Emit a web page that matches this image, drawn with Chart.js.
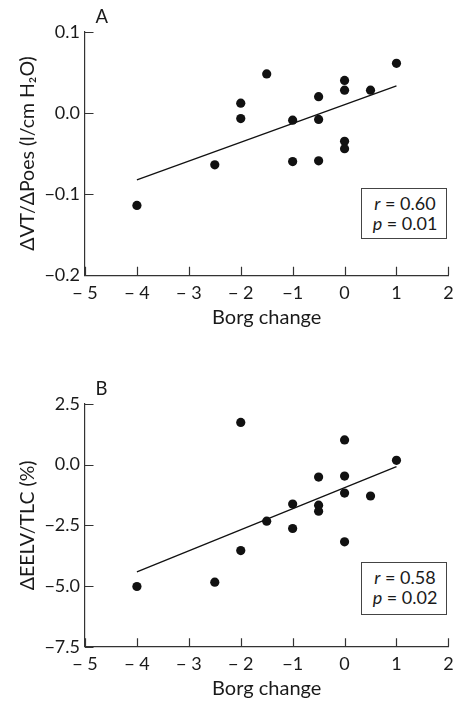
<!DOCTYPE html>
<html>
<head>
<meta charset="utf-8">
<script src="https://cdn.jsdelivr.net/npm/chart.js@4.4.1/dist/chart.umd.min.js"></script>
<style>
  html, body { margin: 0; padding: 0; background: #fff; }
  body { width: 453px; height: 701px; position: relative; overflow: hidden; font-family: Lato, "DejaVu Sans", sans-serif; color: #1a1a1a; }
  .wrap { position: absolute; left: 0; width: 453px; }
  .panel { position: absolute; font-size: 18.5px; line-height: 18px; }
  .stat { position: absolute; box-sizing: border-box; border: 1px solid #444; background: #fff; font-size: 18px; line-height: 20px; text-align: center; padding-top: 4px; padding-left: 2px; }
  .stat i { font-style: italic; }
</style>
</head>
<body>
<div class="wrap" style="top:0;height:330px"><canvas id="cA"></canvas></div>
<div class="wrap" style="top:330px;height:371px"><canvas id="cB"></canvas></div>
<div class="panel" style="left:95.5px;top:7px">A</div>
<div class="panel" style="left:95.5px;top:378.5px">B</div>
<div class="stat" style="left:361px;top:187.5px;width:86px;height:51px"><i>r</i> = 0.60<br><i>p</i> = 0.01</div>
<div class="stat" style="left:361px;top:562px;width:86px;height:53px"><i>r</i> = 0.58<br><i>p</i> = 0.02</div>
<script>
// ---- data ----
const borgA = [-4, -2.5, -2, -2, -1.5, -1, -1, -0.5, -0.5, -0.5, 0, 0, 0, 0, 0.5, 1];
const dvtA  = [-0.114, -0.064, 0.012, -0.007, 0.048, -0.009, -0.060, 0.020, -0.008, -0.059, 0.040, 0.028, -0.035, -0.044, 0.028, 0.061];
const fitAx = [-4, 1];
const fitAy = [-0.0825, 0.0332];

const borgB = [-4, -2.5, -2, -2, -1.5, -1, -1, -0.5, -0.5, -0.5, 0, 0, 0, 0, 0.5, 1];
const eelvB = [-5.02, -4.84, 1.74, -3.54, -2.33, -1.62, -2.63, -0.51, -1.67, -1.92, 1.02, -0.47, -1.17, -3.18, -1.29, 0.18];
const fitBx = [-4, 1];
const fitBy = [-4.42, -0.08];

const xTickValues = [-5, -4, -3, -2, -1, 0, 1, 2];
const xTickLabels = ['\u2212 5', '\u2212 4', '\u2212 3', '\u2212 2', '\u22121', '0', '1', '2'];
const yTickLabelsA = ['\u22120.2', '\u22120.1', '0.0', '0.1'];
const yTickLabelsB = ['\u22127.5', '\u22125.0', '\u22122.5', '0.0', '2.5'];
const yTitleA = '\u0394VT/\u0394Poes (l/cm H\u2082O)';
const yTitleB = '\u0394EELV/TLC (%)';
const xTitle = 'Borg change';

// ---- styling ----
const FONT = 'Lato, "DejaVu Sans", sans-serif';
const INK = '#1a1a1a';
const AXIS = '#333';

const inwardTicks = {
  id: 'inwardTicks',
  afterDraw(chart) {
    const ctx = chart.ctx, area = chart.chartArea;
    const xs = chart.scales.x, ys = chart.scales.y;
    ctx.save();
    ctx.strokeStyle = AXIS;
    ctx.lineWidth = 1.2;
    ctx.beginPath();
    xs.ticks.forEach(t => {
      const px = Math.round(xs.getPixelForValue(t.value)) + 0.5;
      ctx.moveTo(px, area.bottom);
      ctx.lineTo(px, area.bottom - 8.5);
    });
    ys.ticks.forEach(t => {
      const py = Math.round(ys.getPixelForValue(t.value)) + 0.5;
      ctx.moveTo(area.left, py);
      ctx.lineTo(area.left + 8.5, py);
    });
    ctx.stroke();
    ctx.restore();
  }
};

function makeChart(id, xs, ys, fx, fy, ymin, ymax, ystep, yLabels, yTitle, xAxisHeight, padTop) {
  const pts = xs.map((x, i) => ({x: x, y: ys[i]}));
  const fit = fx.map((x, i) => ({x: x, y: fy[i]}));
  return new Chart(document.getElementById(id), {
    type: 'scatter',
    data: {
      datasets: [
        { data: pts, pointRadius: 4.6, pointHoverRadius: 4.6, backgroundColor: '#111', borderWidth: 0, order: 1 },
        { data: fit, showLine: true, pointRadius: 0, borderColor: '#111', borderWidth: 1.3, fill: false, order: 2 }
      ]
    },
    options: {
      responsive: true,
      maintainAspectRatio: false,
      animation: false,
      events: [],
      layout: { padding: { top: padTop, right: 3.3, left: 0, bottom: 0 } },
      plugins: { legend: { display: false }, tooltip: { enabled: false }, title: { display: false } },
      scales: {
        x: {
          type: 'linear', min: -5, max: 2,
          afterBuildTicks: s => { s.ticks = xTickValues.map(v => ({value: v})); },
          afterFit: s => { s.height = xAxisHeight; s.paddingLeft = 0; s.paddingRight = 0; },
          grid: { display: true, drawOnChartArea: false, drawTicks: false, color: 'rgba(0,0,0,0)' },
          border: { display: true, color: AXIS, width: 1.2 },
          ticks: {
            autoSkip: false, maxRotation: 0, padding: 7, color: INK,
            font: { family: FONT, size: 18 },
            callback: v => xTickLabels[xTickValues.indexOf(v)]
          },
          title: { display: true, text: xTitle, color: INK, font: { family: FONT, size: 20 }, padding: { top: 0, bottom: 0 } }
        },
        y: {
          type: 'linear', min: ymin, max: ymax,
          afterBuildTicks: s => { s.ticks = yLabels.map((l, i) => ({value: ymin + i * ystep})); },
          afterFit: s => { s.width = 85; s.paddingTop = 0; s.paddingBottom = 0; },
          grid: { display: true, drawOnChartArea: false, drawTicks: false, color: 'rgba(0,0,0,0)' },
          border: { display: true, color: AXIS, width: 1.2 },
          ticks: {
            autoSkip: false, padding: 5, color: INK,
            font: { family: FONT, size: 18 },
            callback: (v, i) => yLabels[i]
          },
          title: { display: true, text: yTitle, color: INK, font: { family: FONT, size: 19.5 }, padding: { top: 16, bottom: 0 } }
        }
      }
    },
    plugins: [inwardTicks]
  });
}

makeChart('cA', borgA, dvtA, fitAx, fitAy, -0.2, 0.1, 0.1, yTickLabelsA, yTitleA, 54.7, 31.7);
makeChart('cB', borgB, eelvB, fitBx, fitBy, -7.5, 2.5, 2.5, yTickLabelsB, yTitleB, 54.3, 74);
</script>
</body>
</html>
